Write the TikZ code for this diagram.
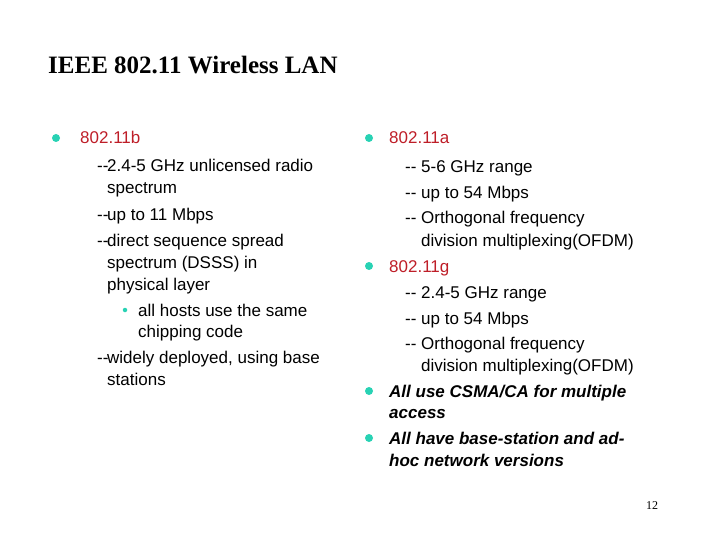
\documentclass[tikz,border=0pt]{standalone}
\usepackage{fontspec}
\setmainfont{Liberation Serif}
\newfontfamily\arial{Liberation Sans}
\definecolor{hdr}{RGB}{190,30,40}
\definecolor{bul}{RGB}{40,210,180}
\begin{document}
\begin{tikzpicture}[x=1pt,y=-1pt,
  txt/.style={anchor=base west,inner sep=0pt,font=\arial\fontsize{17}{20}\selectfont},
  hd/.style={txt,text=hdr},
  it/.style={txt,font=\arial\bfseries\itshape\fontsize{17}{20}\selectfont},
  dsh/.style={txt},
  bigb/.style={circle,fill=bul,inner sep=0pt,minimum size=8pt},
  smb/.style={circle,fill=bul,inner sep=0pt,minimum size=4.5pt}]
\useasboundingbox (0,0) rectangle (720,540);
\node[anchor=base west,inner sep=0pt,font=\bfseries\fontsize{25}{28}\selectfont] (title) at (48,74) {IEEE 802.11 Wireless LAN};
% left column
\node[bigb] (b1) at (56,138) {};
\node[hd] (l1) at (80,144) {802.11b};
\node[dsh] (d1) at (97,172) {--};
\node[txt] (l2) at (107,172) {2.4-5 GHz unlicensed radio};
\node[txt] (l3) at (107,194) {spectrum};
\node[dsh] (d2) at (97,221) {--};
\node[txt] (l4) at (107,221) {up to 11 Mbps};
\node[dsh] (d3) at (97,246) {--};
\node[txt] (l5) at (107,246) {direct sequence spread};
\node[txt] (l6) at (107,268) {spectrum (DSSS) in};
\node[txt] (l7) at (107,290) {physical layer};
\node[smb] (s1) at (125,310) {};
\node[txt] (l8) at (138,316) {all hosts use the same};
\node[txt] (l9) at (138,337) {chipping code};
\node[dsh] (d4) at (97,363) {--};
\node[txt] (l10) at (107,363) {widely deployed, using base};
\node[txt] (l11) at (107,385) {stations};
% right column
\node[bigb] (b2) at (369,138) {};
\node[hd] (r1) at (389,144) {802.11a};
\node[dsh] (e1) at (405,173) {--};
\node[txt] (r2) at (421,173) {5-6 GHz range};
\node[dsh] (e2) at (405,199) {--};
\node[txt] (r3) at (421,199) {up to 54 Mbps};
\node[dsh] (e3) at (405,224) {--};
\node[txt] (r4) at (421,224) {Orthogonal frequency};
\node[txt] (r5) at (421,246) {division multiplexing(OFDM)};
\node[bigb] (b3) at (369,266) {};
\node[hd] (r6) at (389,272) {802.11g};
\node[dsh] (e4) at (405,298) {--};
\node[txt] (r7) at (421,298) {2.4-5 GHz range};
\node[dsh] (e5) at (405,324) {--};
\node[txt] (r8) at (421,324) {up to 54 Mbps};
\node[dsh] (e6) at (405,349) {--};
\node[txt] (r9) at (421,349) {Orthogonal frequency};
\node[txt] (r10) at (421,371) {division multiplexing(OFDM)};
\node[bigb] (b4) at (369,391) {};
\node[it] (r11) at (389,397) {All use CSMA/CA for multiple};
\node[it] (r12) at (389,418) {access};
\node[bigb] (b5) at (369,438) {};
\node[it] (r13) at (389,444) {All have base-station and ad-};
\node[it] (r14) at (389,466) {hoc network versions};
\node[anchor=base west,inner sep=0pt,font=\fontsize{12}{14}\selectfont] (pg) at (646,509) {12};
\end{tikzpicture}
\end{document}
